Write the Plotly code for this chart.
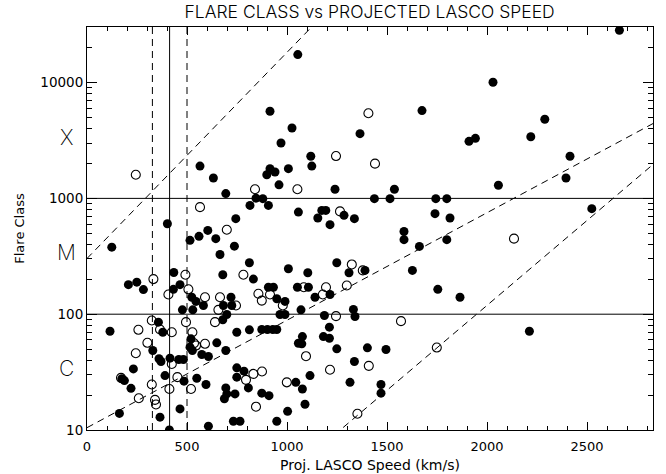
import plotly.graph_objects as go

# CME events with an associated flare: projected LASCO speed (km/s) and GOES class
# (10 = C1, 100 = M1, 1000 = X1)
filled_speed = [
    124, 565, 632, 694, 915, 940, 899, 960, 815, 845, 879, 907, 402, 744, 604, 560,
    515, 644, 737, 665, 812, 679, 832, 434, 207, 249, 282, 432, 465, 907, 932, 524,
    545, 582, 477, 529, 720, 682, 724, 699, 949, 990, 115, 357, 379, 520, 574, 607,
    649, 694, 679, 749, 812, 874, 902, 929, 949, 329, 360, 370, 415, 459, 482, 515,
    527, 232, 174, 187, 390, 485, 549, 595, 220, 694, 699, 687, 749, 785, 749, 807,
    740, 874, 910, 465, 162, 365, 607, 732, 765, 949, 412, 1003, 1090,
    1054, 915, 1025, 970, 1119, 1365, 1675, 1910, 1942, 2030, 2219, 2289, 2415, 2662,
    1124, 1007, 1240, 1537, 1437, 1515, 1744, 1799, 1057, 1154, 1174, 1194, 1285, 1337,
    1215, 1740, 1815, 1585, 1585, 1662, 1799, 1007, 1104, 1249, 1310, 1390, 1627, 1052,
    1107, 1754, 1865, 1140, 1215, 1070, 965, 990, 1187, 1332, 1340, 1212, 1077, 1057,
    1074, 1182, 1212, 1249, 1402, 1495, 1337, 1115, 1044, 1077, 1315, 1470, 1470,
    2395, 2057, 2524, 2212,
]
filled_class = [
    379, 1900, 1500, 1100, 1805, 1690, 1600, 1310, 870, 1005, 995, 870, 604, 668, 529, 470,
    434, 449, 387, 328, 278, 219, 201, 229, 180, 189, 163, 164, 180, 171, 171, 140,
    129, 119, 109, 109, 140, 119, 119, 99.4, 136, 129, 71.3, 85.4, 69.9, 61.3, 44.9, 43.1,
    56.6, 48.6, 89.5, 69.9, 73.3, 73.8, 73.8, 73.8, 73.8, 48.6, 41.2, 39.0, 41.7, 40.6, 40.6, 51.9,
    48.6, 33.7, 27.7, 26.7, 29.5, 26.4, 28.0, 24.7, 22.9, 23.1, 20.5, 18.6, 34.4, 32.2, 28.6, 23.1,
    20.5, 20.8, 19.8, 15.2, 13.9, 12.9, 10.8, 11.9, 11.9, 11.9, 10.0, 14.5, 16.7,
    17460, 5650, 4050, 3010, 2310, 3620, 5730, 3110, 3300, 10070, 3410, 4820, 2310, 28300,
    1900, 1805, 1200, 1200, 995, 995, 995, 995, 762, 677, 787, 787, 714, 668,
    593, 738, 677, 518, 440, 385, 440, 247, 228, 278, 228, 239, 239, 171,
    171, 164, 140, 140, 148, 109, 99.4, 99.4, 97.5, 110, 95.6, 77.3, 64.1, 56.1,
    55.5, 64.1, 62.0, 50.2, 51.2, 49.6, 39.0, 29.5, 25.8, 22.6, 25.8, 24.7, 20.8,
    1500, 1300, 815, 71.3,
]

# events without a clear flare association
open_speed = [
    244, 840, 565, 699, 782, 492, 332, 507, 407, 590, 665, 657, 745, 857, 915, 874,
    257, 324, 365, 424, 495, 527, 535, 545, 590, 640, 302, 244, 424, 170, 452, 520,
    324, 412, 259, 340, 345, 795, 832, 875, 845, 1245, 1407, 1440, 1052, 1265, 1324, 1379,
    1299, 1195, 1084, 979, 1179, 1245, 1570, 1095, 1409, 1215, 999, 1352, 1749, 2135,
]
open_class = [
    1600, 1200, 840, 536, 219, 219, 201, 164, 148, 140, 140, 109, 119, 150, 148, 131,
    73.3, 88.3, 73.8, 69.9, 85.4, 69.9, 56.1, 53.6, 55.5, 85.4, 56.6, 46.0, 37.2, 28.2, 28.6, 22.6,
    24.7, 22.6, 18.8, 18.2, 16.6, 27.1, 30.5, 32.0, 15.9, 2320, 5430, 1995, 1200, 772, 269, 239,
    177, 171, 171, 119, 148, 96.2, 87.1, 43.4, 35.8, 33.1, 25.8, 13.8, 51.5, 449,
]

# guide lines
class_levels = [100, 1000]                 # M1 and X1 thresholds
speed_mean = 413                           # mean speed (solid)
speed_band = [327, 500]                    # +/- one sigma (dashed)
# dashed envelopes: log10(class) = a + b * speed
env_a = [2.481, 1.02, -0.856]
env_b = [0.00178, 0.000928, 0.001466]

x_range = [0, 2830]
y_range_log = [1, 4.48]
x_ticks = [0, 500, 1000, 1500, 2000, 2500]
y_ticks = [10, 100, 1000, 10000]
class_letters = ["C", "M", "X"]

FONT = "DejaVu Sans, Liberation Sans, sans-serif"
THIN = "Inter, Lato, Liberation Sans, sans-serif"

fig = go.Figure()

# envelopes
for a, b in zip(env_a, env_b):
    xs = list(x_range)
    ys = [10 ** (a + b * v) for v in xs]
    fig.add_trace(go.Scatter(x=xs, y=ys, mode="lines",
                             line=dict(color="black", width=1, dash="7px,5px"),
                             hoverinfo="skip", showlegend=False))

# class thresholds
for lvl in class_levels:
    fig.add_trace(go.Scatter(x=x_range, y=[lvl, lvl], mode="lines",
                             line=dict(color="black", width=1),
                             hoverinfo="skip", showlegend=False))

# speed mean and band
y_full = [10 ** y_range_log[0], 10 ** y_range_log[1]]
fig.add_trace(go.Scatter(x=[speed_mean, speed_mean], y=y_full, mode="lines",
                         line=dict(color="black", width=1),
                         hoverinfo="skip", showlegend=False))
for s in speed_band:
    fig.add_trace(go.Scatter(x=[s, s], y=y_full, mode="lines",
                             line=dict(color="black", width=1, dash="7px,5px"),
                             hoverinfo="skip", showlegend=False))

fig.add_trace(go.Scatter(x=filled_speed, y=filled_class, mode="markers",
                         marker=dict(symbol="circle", size=9, color="black",
                                     line=dict(width=0)),
                         showlegend=False))
fig.add_trace(go.Scatter(x=open_speed, y=open_class, mode="markers",
                         marker=dict(symbol="circle-open", size=9, color="black",
                                     line=dict(width=1.1)),
                         showlegend=False))

# class letters beside the axis
for i, letter in enumerate(class_letters):
    fig.add_annotation(x=-0.037, xref="paper", y=1.53 + i, yref="y",
                       text=letter, showarrow=False,
                       font=dict(family=THIN, size=21, color="black", weight=200),
                       xanchor="center", yanchor="middle")

fig.update_layout(
    width=666, height=474,
    margin=dict(l=87, r=13, t=27, b=44, autoexpand=False),
    paper_bgcolor="white", plot_bgcolor="white",
    title=dict(text="FLARE CLASS vs PROJECTED LASCO SPEED", x=0.555, xanchor="center",
               y=0.975, yanchor="middle",
               font=dict(family=THIN, size=17.5, color="black", weight=300)),
    font=dict(family=FONT, color="black"),
)

fig.update_xaxes(
    range=x_range, showgrid=False, zeroline=False, automargin=False,
    showline=True, linecolor="black", linewidth=1, mirror="allticks",
    ticks="inside", ticklen=8, tickcolor="black", tickwidth=1,
    tickvals=x_ticks, ticktext=[str(v) for v in x_ticks], ticklabelstandoff=4,
    tickfont=dict(size=13, family=FONT, color="black"),
    minor=dict(dtick=100, ticks="inside", ticklen=4, tickcolor="black", showgrid=False),
    title=dict(text="Proj. LASCO Speed (km/s)",
               font=dict(size=14, family=FONT, color="black"), standoff=7),
)
fig.update_yaxes(
    type="log", range=y_range_log, showgrid=False, zeroline=False, automargin=False,
    showline=True, linecolor="black", linewidth=1, mirror="allticks",
    ticks="inside", ticklen=10, tickcolor="black", tickwidth=1,
    tickvals=y_ticks, ticktext=[str(v) for v in y_ticks],
    tickfont=dict(size=13.5, family=FONT, color="black"),
    minor=dict(dtick="D1", ticks="inside", ticklen=5, tickcolor="black", showgrid=False),
    title=dict(text="Flare Class", font=dict(size=13, family=FONT, color="black"), standoff=12),
)

fig.write_html("out.html")
